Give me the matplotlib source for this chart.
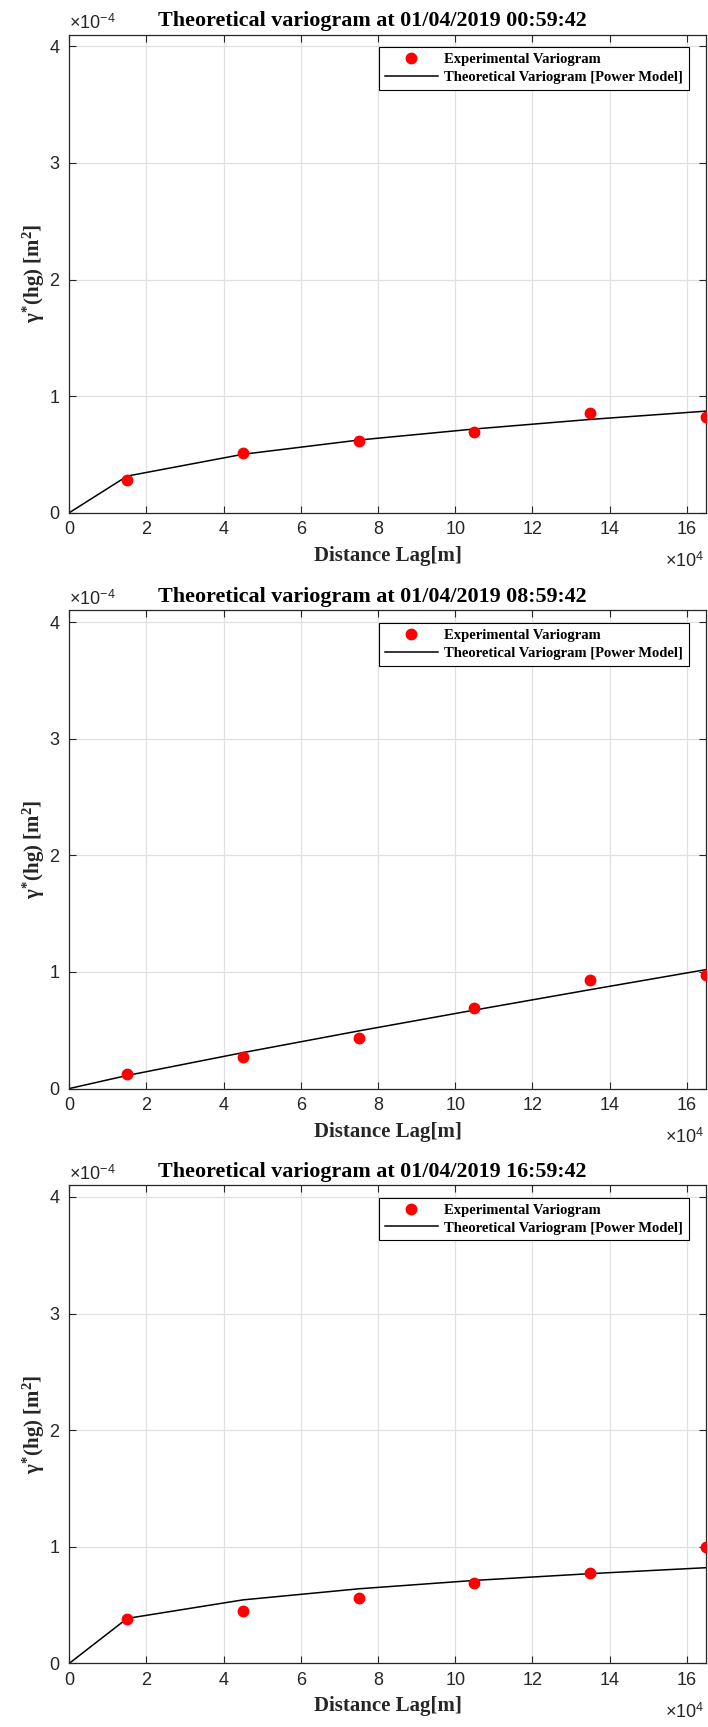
import matplotlib
matplotlib.use("Agg")
import matplotlib.pyplot as plt
from matplotlib.ticker import FixedLocator, FuncFormatter

# Lag distances [m] of the experimental variogram and of the fitted model
lags = [15000, 45000, 75000, 105000, 135000, 165000]
model_lags = [0, 15000, 45000, 75000, 105000, 135000, 165000]

titles = [
    "Theoretical variogram at 01/04/2019 00:59:42",
    "Theoretical variogram at 01/04/2019 08:59:42",
    "Theoretical variogram at 01/04/2019 16:59:42",
]

# Experimental semivariance values [m^2]
exp_0059 = [0.280e-4, 0.509e-4, 0.611e-4, 0.694e-4, 0.851e-4, 0.823e-4]
exp_0859 = [0.124e-4, 0.270e-4, 0.435e-4, 0.692e-4, 0.929e-4, 0.972e-4]
exp_1659 = [0.379e-4, 0.445e-4, 0.560e-4, 0.689e-4, 0.774e-4, 1.000e-4]

# Power-model semivariance evaluated at the lags [m^2]
model_0059 = [0.0, 0.314e-4, 0.501e-4, 0.623e-4, 0.718e-4, 0.800e-4, 0.871e-4]
model_0859 = [0.0, 0.112e-4, 0.308e-4, 0.494e-4, 0.673e-4, 0.848e-4, 1.020e-4]
model_1659 = [0.0, 0.385e-4, 0.544e-4, 0.639e-4, 0.711e-4, 0.769e-4, 0.820e-4]

x_ticks = [0, 20000, 40000, 60000, 80000, 100000, 120000, 140000, 160000]
y_ticks = [0, 1e-4, 2e-4, 3e-4, 4e-4]

experimental = [exp_0059, exp_0859, exp_1659]
models = [model_0059, model_0859, model_1659]

plt.rcParams["mathtext.fontset"] = "custom"
plt.rcParams["mathtext.rm"] = "Liberation Serif:bold"
plt.rcParams["mathtext.it"] = "Liberation Serif:bold"
plt.rcParams["mathtext.bf"] = "Liberation Serif:bold"

AX_COLOR = "#262626"
GRID_COLOR = "#e0e0e0"
SERIF = "Liberation Serif"
SANS = "Liberation Sans"

fig = plt.figure(figsize=(7.08, 17.27), dpi=100)
fig.patch.set_facecolor("white")

left, width, height = 0.0979, 0.8993, 0.2768
bottoms = [0.70313, 0.3697, 0.03688]

for k in range(3):
    ax = fig.add_axes([left, bottoms[k], width, height])
    ax.plot(lags, experimental[k], linestyle="none", marker="o", ms=7.5,
            color="red", mec="red", label="Experimental Variogram", zorder=3)
    ax.plot(model_lags, models[k], color="black", lw=1.1,
            label="Theoretical Variogram [Power Model]", zorder=2)

    ax.set_xlim(0, 165000)
    ax.set_ylim(0, 4.1e-4)
    ax.xaxis.set_major_locator(FixedLocator(x_ticks))
    ax.yaxis.set_major_locator(FixedLocator(y_ticks))
    ax.xaxis.set_major_formatter(FuncFormatter(lambda v, p: f"{v / 1e4:g}"))
    ax.yaxis.set_major_formatter(FuncFormatter(lambda v, p: f"{v / 1e-4:g}"))

    ax.grid(True, color=GRID_COLOR, lw=0.9)
    ax.set_axisbelow(True)
    for s in ax.spines.values():
        s.set_color(AX_COLOR)
        s.set_linewidth(0.9)
    ax.tick_params(direction="in", length=5, width=0.8, color=AX_COLOR,
                   top=True, right=True, labelcolor=AX_COLOR, labelsize=13)
    ax.tick_params(axis="x", pad=6)
    ax.tick_params(axis="y", pad=7)
    for lab in ax.get_xticklabels() + ax.get_yticklabels():
        lab.set_family(SANS)

    ax.set_title(titles[k], family=SERIF, fontweight="bold", fontsize=15.8,
                 pad=6, color="black", x=0.476)
    ax.set_xlabel("Distance Lag[m]", family=SERIF, fontweight="bold",
                  fontsize=15, labelpad=5.5, color=AX_COLOR)
    ax.set_ylabel(r"$\gamma^{*}$(hg) [m$^{2}$]", family=SERIF,
                  fontweight="bold", fontsize=15, labelpad=1.5, color=AX_COLOR)

    # exponent annotations of the scaled axes
    ax.annotate(r"×10$^{\mathregular{-4}}$", xy=(0, 1), xycoords="axes fraction",
                xytext=(0, 4), textcoords="offset points", ha="left",
                va="baseline", family=SANS, fontsize=13, color=AX_COLOR)
    ax.annotate(r"×10$^{\mathregular{4}}$", xy=(1, 0), xycoords="axes fraction",
                xytext=(-1, -28), textcoords="offset points", ha="right",
                va="top", family=SANS, fontsize=13, color=AX_COLOR,
                annotation_clip=False)

    leg = ax.legend(loc="upper right", bbox_to_anchor=(0.9733, 0.9736),
                    borderaxespad=0, fancybox=False, framealpha=1,
                    edgecolor="black", handlelength=3.6, handletextpad=0.45,
                    labelspacing=0.3, borderpad=0.4,
                    prop={"family": SERIF, "weight": "bold", "size": 10.5})
    leg.get_frame().set_linewidth(0.8)

fig.savefig("out.png", dpi=100, facecolor="white")
